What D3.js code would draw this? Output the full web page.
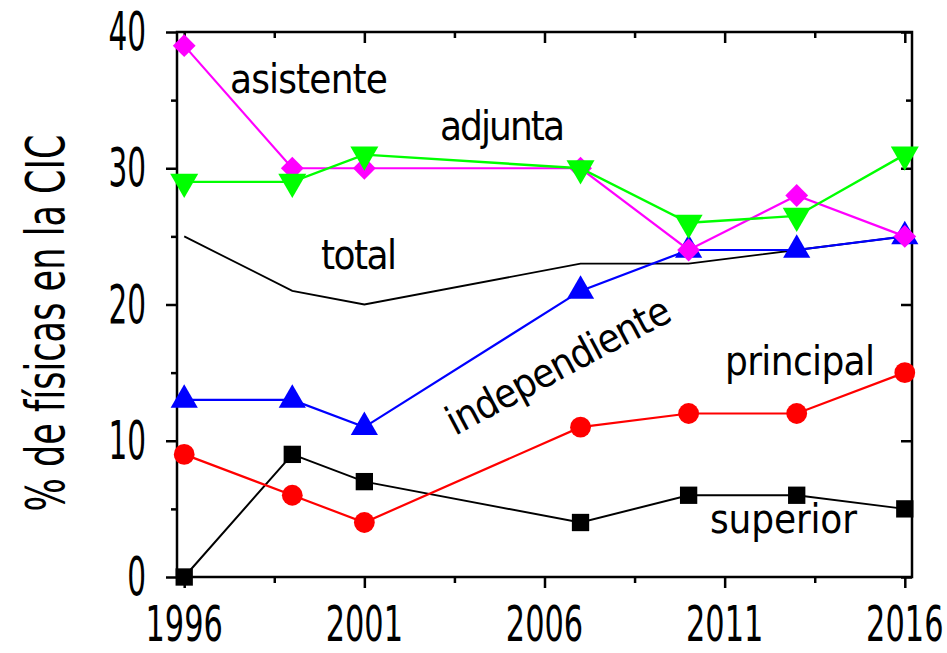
<!DOCTYPE html>
<html>
<head>
<meta charset="utf-8">
<script src="https://cdn.jsdelivr.net/npm/d3@7"></script>
<style>
  body { margin: 0; background: #fff; }
  text { font-family: "DejaVu Sans Condensed", "Liberation Sans Narrow", sans-serif; fill: #000; }
</style>
</head>
<body>
<div id="viz"></div>
<script>
// data
const years       = [1996, 1999, 2001, 2007, 2010, 2013, 2016];
const asistente   = [39, 30, 30, 30, 24, 28, 25];
const adjunta     = [29, 29, 31, 30, 26, 26.5, 31];
const total       = [25, 21, 20, 23, 23, 24, 25];
const independ    = [13, 13, 11, 21, 24, 24, 25];
const principal   = [9, 6, 4, 11, 12, 12, 15];
const superior    = [0, 9, 7, 4, 6, 6, 5];

const xMajor = [1996, 2001, 2006, 2011, 2016];
const xMinor = [1998.5, 2003.5, 2008.5, 2013.5];
const yMajor = [0, 10, 20, 30, 40];
const yMinor = [5, 15, 25, 35];

// set the dimensions and margins of the graph
const margin = {top: 32, right: 35, bottom: 76, left: 177},
      width = 735,
      height = 545;

const svg = d3.select("#viz")
  .append("svg")
    .attr("width", 947)
    .attr("height", 653)
  .append("g")
    .attr("transform", "translate(" + margin.left + "," + margin.top + ")");

const x = d3.scaleLinear().domain([1995.8, 2016.2]).range([0, width]);
const y = d3.scaleLinear().domain([0, 40]).range([height, 0]);

// ticks: outward on bottom/left, inward on top/right
const tickAxis = (axis, vals, len) => axis.tickValues(vals).tickSize(len).tickSizeOuter(0).tickFormat("");

const addAxis = (transform, mk, vals, len) => {
  const g = svg.append("g").attr("transform", transform).call(tickAxis(mk, vals, len));
  g.select(".domain").remove();
  g.selectAll("line").attr("stroke", "#000").attr("stroke-width", 2.5);
};
addAxis("translate(0," + height + ")", d3.axisBottom(x), xMajor, 11);
addAxis("translate(0," + height + ")", d3.axisBottom(x), xMinor, 6);
addAxis("translate(0,0)", d3.axisBottom(x), xMajor, 11);
addAxis("translate(0,0)", d3.axisBottom(x), xMinor, 6);
addAxis("translate(0,0)", d3.axisLeft(y), yMajor, 11);
addAxis("translate(0,0)", d3.axisLeft(y), yMinor, 6);
addAxis("translate(" + width + ",0)", d3.axisLeft(y), yMajor, 11);
addAxis("translate(" + width + ",0)", d3.axisLeft(y), yMinor, 6);

// frame
svg.append("rect")
  .attr("width", width).attr("height", height)
  .attr("fill", "none").attr("stroke", "#000").attr("stroke-width", 2.5);

// tick labels (condensed look)
xMajor.forEach(v => {
  svg.append("text")
    .attr("transform", "translate(" + x(v) + "," + (height + 64) + ") scale(0.69,1)")
    .attr("text-anchor", "middle")
    .attr("font-size", 49)
    .text(v);
});
yMajor.forEach(v => {
  svg.append("text")
    .attr("transform", "translate(-31," + (y(v) + 18) + ") scale(0.62,1)")
    .attr("text-anchor", "end")
    .attr("font-size", 53)
    .text(v);
});

// y axis title
svg.append("text")
  .attr("transform", "translate(" + (64 - margin.left) + "," + (323 - margin.top) + ") rotate(-90)")
  .attr("text-anchor", "middle")
  .attr("font-size", 53)
  .attr("textLength", 377)
  .attr("lengthAdjust", "spacingAndGlyphs")
  .text("% de físicas en la CIC");

const zip = vals => years.map((yr, i) => ({yr: yr, v: vals[i]}));
const line = d3.line().x(d => x(d.yr)).y(d => y(d.v));

const drawSeries = (vals, color, sw, symbol, size, rot) => {
  svg.append("path")
    .datum(zip(vals))
    .attr("fill", "none")
    .attr("stroke", color)
    .attr("stroke-width", sw)
    .attr("d", line);
  if (!symbol) return;
  svg.append("g").selectAll("path")
    .data(zip(vals))
    .join("path")
      .attr("transform", d => "translate(" + x(d.yr) + "," + y(d.v) + ") rotate(" + rot + ")")
      .attr("d", d3.symbol().type(symbol).size(size))
      .attr("fill", color);
};

drawSeries(total, "#000", 1.8, null);
drawSeries(superior, "#000", 2, d3.symbolSquare, 300, 0);
drawSeries(principal, "#ff0000", 2.2, d3.symbolCircle, 340, 0);
drawSeries(independ, "#0000ff", 2.2, d3.symbolTriangle, 320, 0);
drawSeries(asistente, "#ff00ff", 2.2, d3.symbolSquare, 260, 45);
drawSeries(adjunta, "#00ff00", 2.4, d3.symbolTriangle, 340, 180);

// series labels (page coords shifted by margin)
const labels = [
  {t: "asistente", x: 230, y: 93, len: 158, rot: 0},
  {t: "adjunta", x: 440, y: 140, len: 125, rot: 0},
  {t: "total", x: 321, y: 269, len: 76, rot: 0},
  {t: "independiente", x: 455, y: 436, len: 248, rot: -28},
  {t: "principal", x: 725, y: 375, len: 150, rot: 0},
  {t: "superior", x: 710, y: 533, len: 147, rot: 0}
];
labels.forEach(l => {
  svg.append("text")
    .attr("transform", "translate(" + (l.x - margin.left) + "," + (l.y - margin.top) + ") rotate(" + l.rot + ")")
    .attr("font-size", 40)
    .attr("textLength", l.len)
    .attr("lengthAdjust", "spacing")
    .text(l.t);
});
</script>
</body>
</html>
